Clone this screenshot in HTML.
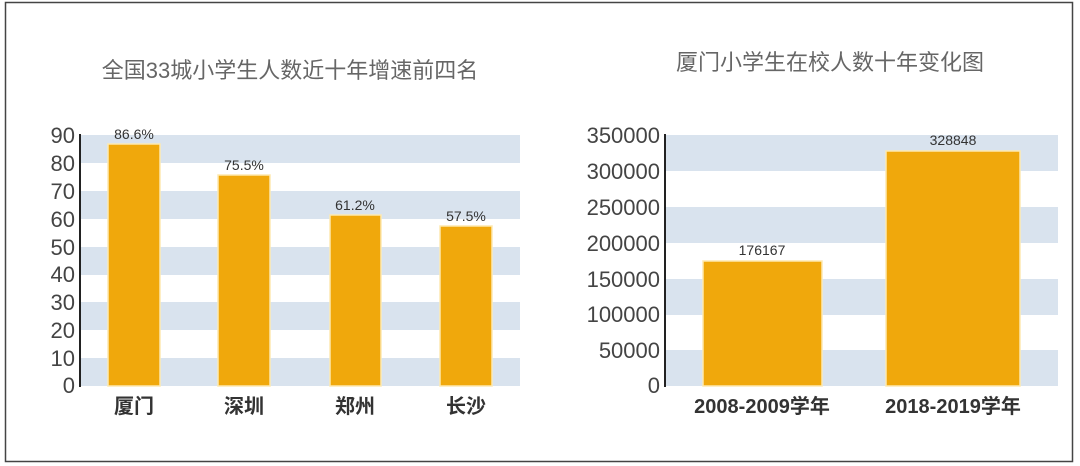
<!DOCTYPE html>
<html><head><meta charset="utf-8"><style>
body{margin:0;background:#fff;}
svg{display:block;font-family:"Liberation Sans","Noto Sans CJK SC",sans-serif;}
</style></head><body>
<svg width="1080" height="466" viewBox="0 0 1080 466">
<rect x="0" y="0" width="1080" height="466" fill="#fff"/>
<rect x="5.5" y="2.5" width="1067" height="459" fill="none" stroke="#444" stroke-width="1.5"/>
<text x="290" y="78" font-size="22" fill="#666" text-anchor="middle">全国33城小学生人数近十年增速前四名</text>
<text x="830" y="70" font-size="22" fill="#666" text-anchor="middle">厦门小学生在校人数十年变化图</text>
<g fill="#d9e3ee">
<rect x="80" y="135" width="440" height="28"/>
<rect x="80" y="191" width="440" height="28"/>
<rect x="80" y="247" width="440" height="28"/>
<rect x="80" y="302" width="440" height="28"/>
<rect x="80" y="358" width="440" height="28"/>
</g>
<line x1="80" y1="134" x2="80" y2="387" stroke="#222" stroke-width="2"/>
<g font-size="22" fill="#444" text-anchor="end">
<text x="75" y="143">90</text><text x="75" y="171">80</text><text x="75" y="199">70</text><text x="75" y="227">60</text><text x="75" y="255">50</text><text x="75" y="282">40</text><text x="75" y="310">30</text><text x="75" y="338">20</text><text x="75" y="366">10</text><text x="75" y="393">0</text>
</g>
<g fill="#f0a80c" stroke="#fde9b0" stroke-width="1.5">
<rect x="108" y="144" width="52" height="242"/>
<rect x="218" y="175" width="52" height="211"/>
<rect x="330" y="215" width="51" height="171"/>
<rect x="440" y="226" width="52" height="160"/>
</g>
<g font-size="14" fill="#333" text-anchor="middle">
<text x="134" y="139">86.6%</text><text x="244" y="170">75.5%</text><text x="355" y="210">61.2%</text><text x="466" y="221">57.5%</text>
</g>
<g font-size="20" font-weight="bold" fill="#333" text-anchor="middle">
<text x="134" y="413">厦门</text><text x="244" y="413">深圳</text><text x="355" y="413">郑州</text><text x="466" y="413">长沙</text>
</g>
<g fill="#d9e3ee">
<rect x="665" y="135" width="393" height="36"/>
<rect x="665" y="207" width="393" height="36"/>
<rect x="665" y="279" width="393" height="36"/>
<rect x="665" y="350" width="393" height="36"/>
</g>
<line x1="665" y1="134" x2="665" y2="387" stroke="#222" stroke-width="2"/>
<g font-size="22" fill="#444" text-anchor="end">
<text x="660" y="143">350000</text><text x="660" y="179">300000</text><text x="660" y="215">250000</text><text x="660" y="251">200000</text><text x="660" y="287">150000</text><text x="660" y="322">100000</text><text x="660" y="358">50000</text><text x="660" y="393">0</text>
</g>
<g fill="#f0a80c" stroke="#fde9b0" stroke-width="1.5">
<rect x="703" y="261" width="119" height="125"/>
<rect x="886" y="151" width="134" height="235"/>
</g>
<g font-size="14" fill="#333" text-anchor="middle">
<text x="762" y="255">176167</text><text x="953" y="145">328848</text>
</g>
<g font-size="20" font-weight="bold" fill="#333" text-anchor="middle">
<text x="762" y="413">2008-2009学年</text><text x="953" y="413">2018-2019学年</text>
</g>
</svg>
</body></html>
